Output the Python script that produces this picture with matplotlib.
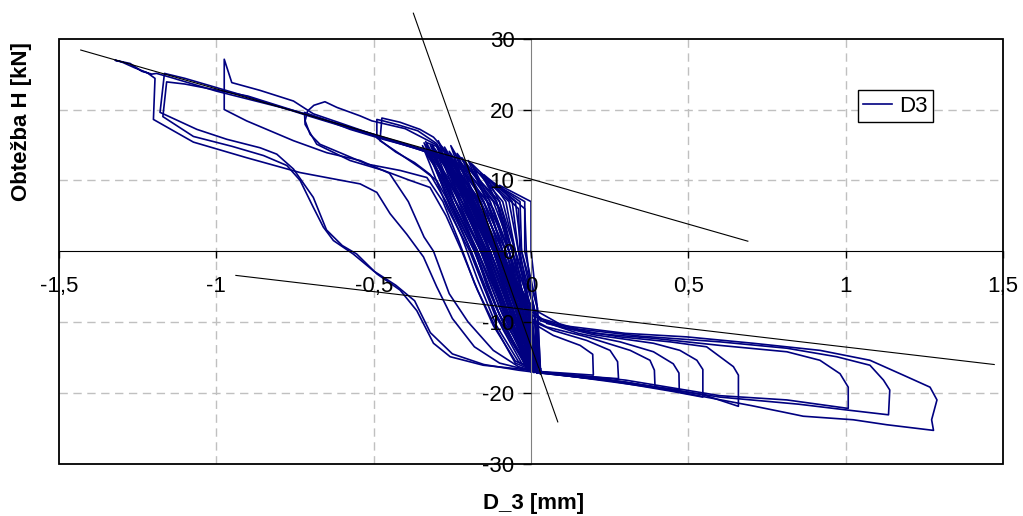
import matplotlib.pyplot as plt
from matplotlib.patches import Rectangle

plt.rcParams['font.family'] = ['Liberation Sans', 'DejaVu Sans']

# --- data (D_3 [mm], H [kN]) ---
cycle_1 = [(0.00, -9.5), (-0.09, -1.0), (-0.18, 7.0), (-0.26, 12.5), (-0.30, 14.8), (-0.33, 15.3),
           (-0.33, 13.5), (-0.26, 9.0), (-0.20, 3.0), (-0.14, -5.0), (-0.08, -11.0), (-0.02, -15.5),
           (0.03, -17.0), (0.10, -17.2), (0.198, -17.5), (0.196, -14.55), (0.156, -13.3),
           (0.071, -11.9), (0.007, -10.2)]
cycle_2 = [(0.007, -10.0), (-0.08, -2.0), (-0.17, 6.0), (-0.24, 11.5), (-0.28, 14.6), (-0.31, 16.1),
           (-0.353, 17.2), (-0.416, 18.2), (-0.474, 18.8), (-0.48, 15.6), (-0.416, 13.7),
           (-0.353, 11.8), (-0.30, 10.0), (-0.25, 6.0), (-0.20, 1.0), (-0.15, -5.0), (-0.09, -11.0),
           (-0.03, -15.8), (0.02, -17.0), (0.15, -17.6), (0.278, -18.0), (0.275, -15.6),
           (0.251, -14.0), (0.177, -12.6), (0.071, -11.2), (0.00, -9.8)]
cycle_3 = [(0.00, -9.8), (-0.10, -1.5), (-0.19, 6.5), (-0.26, 12.2), (-0.30, 15.2), (-0.36, 17.0),
           (-0.42, 17.8), (-0.47, 18.4), (-0.49, 18.6), (-0.49, 16.0), (-0.43, 14.0), (-0.37, 12.5),
           (-0.32, 10.8), (-0.27, 7.0), (-0.22, 2.0), (-0.17, -4.0), (-0.11, -10.5), (-0.04, -15.6),
           (0.02, -17.1), (0.20, -17.8), (0.394, -19.2), (0.392, -16.8), (0.378, -15.4),
           (0.315, -14.0), (0.177, -12.1), (0.05, -10.7), (0.00, -9.5)]
cycle_4 = [(0.00, -9.5), (-0.10, -1.0), (-0.20, 7.0), (-0.27, 12.5), (-0.30, 15.0), (-0.40, 17.3),
           (-0.506, 18.4), (-0.543, 19.1), (-0.617, 20.3), (-0.655, 21.1), (-0.69, 20.6),
           (-0.71, 19.8), (-0.718, 18.4), (-0.702, 16.5), (-0.671, 15.1), (-0.596, 13.7),
           (-0.522, 12.3), (-0.416, 11.4), (-0.331, 10.4), (-0.28, 7.0), (-0.23, 1.5), (-0.18, -4.5),
           (-0.12, -10.5), (-0.05, -15.5), (0.02, -17.0), (0.20, -17.9), (0.35, -18.9),
           (0.471, -19.6), (0.47, -17.2), (0.452, -15.9), (0.389, -14.2), (0.283, -12.8),
           (0.15, -11.6), (0.03, -9.8)]
cycle_5 = [(0.03, -9.8), (-0.09, -1.0), (-0.20, 7.5), (-0.28, 13.0), (-0.36, 14.5), (-0.47, 15.8),
           (-0.575, 17.2), (-0.65, 18.5), (-0.708, 19.4), (-0.72, 19.6), (-0.718, 17.9),
           (-0.681, 15.1), (-0.575, 12.8), (-0.469, 11.4), (-0.385, 10.0), (-0.321, 9.0),
           (-0.27, 5.0), (-0.22, 0.0), (-0.17, -5.5), (-0.11, -11.0), (-0.05, -15.8), (0.02, -17.1),
           (0.25, -18.3), (0.45, -19.8), (0.546, -20.6), (0.546, -16.7), (0.527, -15.4),
           (0.473, -14.0), (0.389, -13.0), (0.20, -11.8), (0.05, -10.2)]
cycle_6 = [(0.00, -9.8), (-0.10, -1.0), (-0.20, 7.5), (-0.29, 13.4), (-0.47, 16.0), (-0.60, 18.0),
           (-0.692, 19.4), (-0.755, 21.2), (-0.861, 22.7), (-0.951, 23.8), (-0.975, 27.1),
           (-0.975, 20.0), (-0.904, 18.4), (-0.755, 15.6), (-0.649, 13.9), (-0.543, 12.8),
           (-0.45, 11.0), (-0.39, 7.0), (-0.34, 2.0), (-0.31, 0.0), (-0.26, -6.0), (-0.20, -10.0),
           (-0.12, -14.0), (-0.04, -16.3), (0.03, -17.2), (0.30, -18.5), (0.55, -20.3),
           (0.659, -21.9), (0.659, -17.5), (0.643, -16.3), (0.558, -13.5), (0.442, -12.8),
           (0.283, -12.1), (0.10, -10.8), (0.00, -9.0)]
cycle_7 = [(0.00, -9.0), (-0.09, -1.0), (-0.20, 8.0), (-0.30, 13.6), (-0.50, 16.3), (-0.70, 19.0),
           (-0.90, 21.8), (-1.10, 24.4), (-1.165, 25.1), (-1.179, 19.6), (-1.062, 17.2),
           (-0.967, 15.8), (-0.861, 14.6), (-0.808, 13.7), (-0.755, 11.6), (-0.692, 7.6),
           (-0.65, 3.0), (-0.60, 0.8), (-0.554, -0.4), (-0.49, -3.2), (-0.416, -5.5),
           (-0.363, -8.4), (-0.31, -13.0), (-0.257, -14.9), (-0.152, -16.1), (-0.045, -16.6),
           (0.05, -17.1), (0.30, -18.2), (0.60, -20.4), (0.813, -21.0), (1.008, -22.2),
           (1.008, -19.2), (0.982, -17.3), (0.918, -15.4), (0.813, -14.2), (0.60, -13.3),
           (0.389, -12.3), (0.20, -11.6), (0.05, -10.0), (0.00, -8.5)]
cycle_8 = [(0.00, -8.5), (-0.09, -0.5), (-0.20, 8.2), (-0.30, 13.7), (-0.50, 16.4), (-0.70, 19.1),
           (-0.90, 21.9), (-1.10, 23.6), (-1.158, 23.9), (-1.17, 19.0), (-1.073, 16.2),
           (-0.95, 14.8), (-0.85, 13.5), (-0.776, 12.1), (-0.734, 10.0), (-0.692, 6.2),
           (-0.66, 3.4), (-0.628, 1.5), (-0.565, -0.4), (-0.50, -2.8), (-0.43, -4.8), (-0.37, -7.0),
           (-0.32, -11.5), (-0.25, -14.5), (-0.15, -16.0), (-0.04, -16.8), (0.05, -17.3),
           (0.30, -18.5), (0.60, -20.6), (0.85, -21.6), (1.00, -22.4), (1.136, -23.1),
           (1.14, -19.6), (1.12, -18.2), (1.077, -16.1), (0.971, -14.9), (0.813, -13.7),
           (0.60, -12.8), (0.35, -12.0), (0.15, -11.0), (0.03, -9.5), (0.00, -8.0)]
cycle_9 = [(0.00, -8.0), (-0.10, 0.0), (-0.20, 8.5), (-0.30, 13.8), (-0.50, 16.5), (-0.75, 19.8),
           (-1.00, 22.6), (-1.15, 24.6), (-1.19, 25.1), (-1.205, 25.0), (-1.237, 25.4),
           (-1.274, 26.5), (-1.322, 26.96), (-1.30, 26.7), (-1.26, 25.9), (-1.22, 25.2),
           (-1.195, 24.4), (-1.20, 18.6), (-1.073, 15.4), (-0.904, 13.2), (-0.734, 11.1),
           (-0.543, 9.5), (-0.49, 8.3), (-0.448, 5.3), (-0.395, 2.4), (-0.342, -0.8), (-0.30, -5.0),
           (-0.25, -9.5), (-0.18, -13.5), (-0.10, -15.8), (0.00, -16.9), (0.10, -17.5),
           (0.40, -19.3), (0.70, -21.8), (0.80, -22.7), (0.865, -23.3), (1.024, -23.8),
           (1.13, -24.5), (1.279, -25.3), (1.273, -23.8), (1.29, -21.0), (1.268, -19.2),
           (1.183, -17.5), (1.077, -15.4), (0.918, -14.0), (0.706, -13.0), (0.495, -12.1),
           (0.30, -11.6), (0.10, -10.5), (0.00, -8.0)]

# small force cycles in the dense band near the origin
# per cycle: top point, x on the rising path at H = +7 / 0 / -8, bottom point,
# x on the returning path at H = +7 / 0 / -8
band_top_x = [-0.34, -0.33, -0.32, -0.31, -0.30, -0.29, -0.28, -0.27, -0.26, -0.25,
              -0.24, -0.23, -0.22, -0.21, -0.20, -0.18, -0.16, -0.14, -0.12, -0.10]
band_top_y = [15.3, 14.6, 15.0, 14.2, 14.8, 13.8, 14.5, 13.4, 14.1, 13.0,
              13.6, 12.6, 13.2, 12.2, 12.8, 11.6, 11.0, 10.3, 9.6, 9.3]
band_up7 = [-0.26, -0.25, -0.25, -0.24, -0.23, -0.22, -0.21, -0.21, -0.20, -0.19,
            -0.18, -0.17, -0.16, -0.15, -0.14, -0.13, -0.11, -0.10, -0.08, -0.06]
band_up0 = [-0.18, -0.17, -0.17, -0.16, -0.16, -0.15, -0.14, -0.14, -0.13, -0.13,
            -0.12, -0.11, -0.11, -0.10, -0.09, -0.08, -0.07, -0.06, -0.05, -0.04]
band_upm8 = [-0.11, -0.10, -0.09, -0.09, -0.08, -0.08, -0.07, -0.07, -0.06, -0.06,
             -0.05, -0.05, -0.05, -0.04, -0.04, -0.03, -0.03, -0.02, -0.02, -0.01]
band_bot_x = [-0.02, -0.01, 0.00, 0.01, 0.00, 0.01, 0.02, 0.00, 0.01, 0.02,
              0.01, 0.02, 0.01, 0.02, 0.02, 0.02, 0.03, 0.03, 0.02, 0.03]
band_bot_y = [-16.0, -16.3, -16.6, -16.9, -16.5, -17.0, -16.8, -16.2, -16.7, -17.1,
              -16.4, -16.9, -16.6, -17.2, -16.8, -16.5, -16.9, -17.3, -16.2, -16.8]
band_dn7 = [-0.22, -0.21, -0.20, -0.19, -0.18, -0.17, -0.16, -0.16, -0.15, -0.14,
            -0.13, -0.12, -0.11, -0.10, -0.09, -0.07, -0.05, -0.035, -0.02, 0.00]
band_dn0 = [-0.14, -0.13, -0.12, -0.11, -0.11, -0.10, -0.09, -0.09, -0.08, -0.07,
            -0.07, -0.06, -0.06, -0.05, -0.05, -0.04, -0.03, -0.03, -0.02, 0.00]
band_dnm8 = [-0.07, -0.06, -0.05, -0.04, -0.04, -0.03, -0.03, -0.02, -0.02, -0.01,
             -0.01, 0.00, 0.00, 0.00, 0.01, 0.01, 0.01, 0.02, 0.02, 0.02]

# second set of band cycles (levels H = +6 / 0 / -9)
band2_top_x = [-0.345, -0.335, -0.325, -0.315, -0.305, -0.295, -0.285, -0.275, -0.265, -0.255,
               -0.245, -0.235, -0.19, -0.15]
band2_top_y = [14.9, 15.5, 13.9, 15.1, 14.4, 15.6, 13.7, 14.7, 13.5, 14.9, 12.9, 13.8, 12.4, 10.8]
band2_up6 = [-0.265, -0.255, -0.245, -0.24, -0.23, -0.22, -0.21, -0.205, -0.195, -0.185,
             -0.175, -0.165, -0.13, -0.10]
band2_up0 = [-0.195, -0.19, -0.18, -0.175, -0.17, -0.16, -0.155, -0.15, -0.145, -0.135,
             -0.13, -0.12, -0.09, -0.07]
band2_upm9 = [-0.115, -0.11, -0.10, -0.10, -0.09, -0.085, -0.08, -0.075, -0.07, -0.065,
              -0.06, -0.055, -0.04, -0.03]
band2_bot_x = [-0.01, 0.00, 0.01, -0.01, 0.02, 0.01, 0.00, 0.02, 0.01, 0.03, 0.02, 0.01, 0.02, 0.03]
band2_bot_y = [-16.6, -17.0, -16.4, -16.8, -17.2, -16.5, -16.9, -16.3, -17.0, -16.6,
               -16.8, -17.1, -16.4, -16.9]
band2_dn6 = [-0.225, -0.215, -0.205, -0.195, -0.185, -0.18, -0.17, -0.16, -0.15, -0.14,
             -0.12, -0.10, -0.04, -0.02]
band2_dn0 = [-0.155, -0.145, -0.14, -0.13, -0.12, -0.115, -0.105, -0.10, -0.09, -0.08,
             -0.07, -0.06, -0.035, -0.015]
band2_dnm9 = [-0.075, -0.07, -0.06, -0.055, -0.05, -0.045, -0.04, -0.035, -0.03, -0.02,
              -0.015, -0.01, 0.0, 0.01]

# stiffness lines drawn on the chart
line_upper = ([-1.431, 0.689], [28.4, 1.41])
line_steep = ([-0.374, 0.085], [33.6, -24.1])
line_lower = ([-0.938, 1.472], [-3.42, -16.0])

x_ticks = [-1.5, -1, -0.5, 0, 0.5, 1, 1.5]
x_tick_labels = ['-1,5', '-1', '-0,5', '0', '0,5', '1', '1,5']
y_ticks = [-30, -20, -10, 0, 10, 20, 30]
grid_x = [-1, -0.5, 0.5, 1]
grid_y = [-20, -10, 10, 20]

blue = '#000080'

fig = plt.figure(figsize=(10.23, 5.16), dpi=100)
ax = fig.add_axes([0.0577, 0.1014, 0.9228, 0.8236])
ax.set_xlim(-1.5, 1.5)
ax.set_ylim(-30, 30)

for gx in grid_x:
    ax.axvline(gx, color='#c0c0c0', lw=1.0, ls=(0, (6, 4)), zorder=0.5)
for gy in grid_y:
    ax.axhline(gy, color='#c0c0c0', lw=1.0, ls=(0, (6, 4)), zorder=0.5)

cycles = [cycle_1, cycle_2, cycle_3, cycle_4, cycle_5, cycle_6, cycle_7, cycle_8, cycle_9]
first = True
for cyc in cycles:
    xs = [p[0] for p in cyc]
    ys = [p[1] for p in cyc]
    ax.plot(xs, ys, color=blue, lw=1.2, label='D3' if first else None, zorder=2)
    first = False

for i in range(len(band_top_x)):
    xs = [band_bot_x[i], band_upm8[i], band_up0[i], band_up7[i], band_top_x[i],
          band_dn7[i], band_dn0[i], band_dnm8[i], band_bot_x[i]]
    ys = [band_bot_y[i], -8, 0, 7, band_top_y[i], 7, 0, -8, band_bot_y[i]]
    ax.plot(xs, ys, color=blue, lw=1.2, zorder=2)

for i in range(len(band2_top_x)):
    xs = [band2_bot_x[i], band2_upm9[i], band2_up0[i], band2_up6[i], band2_top_x[i],
          band2_dn6[i], band2_dn0[i], band2_dnm9[i], band2_bot_x[i]]
    ys = [band2_bot_y[i], -9, 0, 6, band2_top_y[i], 6, 0, -9, band2_bot_y[i]]
    ax.plot(xs, ys, color=blue, lw=1.2, zorder=2)

for lx, ly in (line_upper, line_steep, line_lower):
    ax.plot(lx, ly, color='black', lw=0.8, zorder=3, clip_on=False)

# axes crossing at zero
ax.spines['left'].set_position(('data', 0))
ax.spines['bottom'].set_position(('data', 0))
ax.spines['left'].set_color('#808080')
ax.spines['bottom'].set_color('black')
ax.spines['top'].set_visible(False)
ax.spines['right'].set_visible(False)
ax.add_patch(Rectangle((0, 0), 1, 1, transform=ax.transAxes, fill=False,
                       ec='black', lw=1.3, clip_on=False, zorder=4))
ax.set_axisbelow(False)

ax.set_xticks(x_ticks)
ax.set_xticklabels(x_tick_labels)
ax.set_yticks(y_ticks)
ax.set_yticklabels([str(v) for v in y_ticks])
ax.tick_params(axis='x', direction='out', length=5, width=1, pad=13, labelsize=16)
ax.tick_params(axis='y', direction='out', length=6, width=1, pad=6, labelsize=16)

fig.text(22 / 1023, 1 - 122 / 516, 'Obtežba H [kN]', rotation=90, ha='center', va='center',
         fontsize=16, fontweight='bold')
fig.text(534 / 1023, 1 - 503 / 516, 'D_3 [mm]', ha='center', va='center',
         fontsize=16, fontweight='bold')

leg = ax.legend(loc='upper left', bbox_to_anchor=(0.846, 0.879), borderaxespad=0,
                fontsize=16, handlelength=1.3, handletextpad=0.3, borderpad=0.25,
                fancybox=False, framealpha=1, edgecolor='black')
leg.get_frame().set_linewidth(1.0)

fig.savefig('out.png', dpi=100)
